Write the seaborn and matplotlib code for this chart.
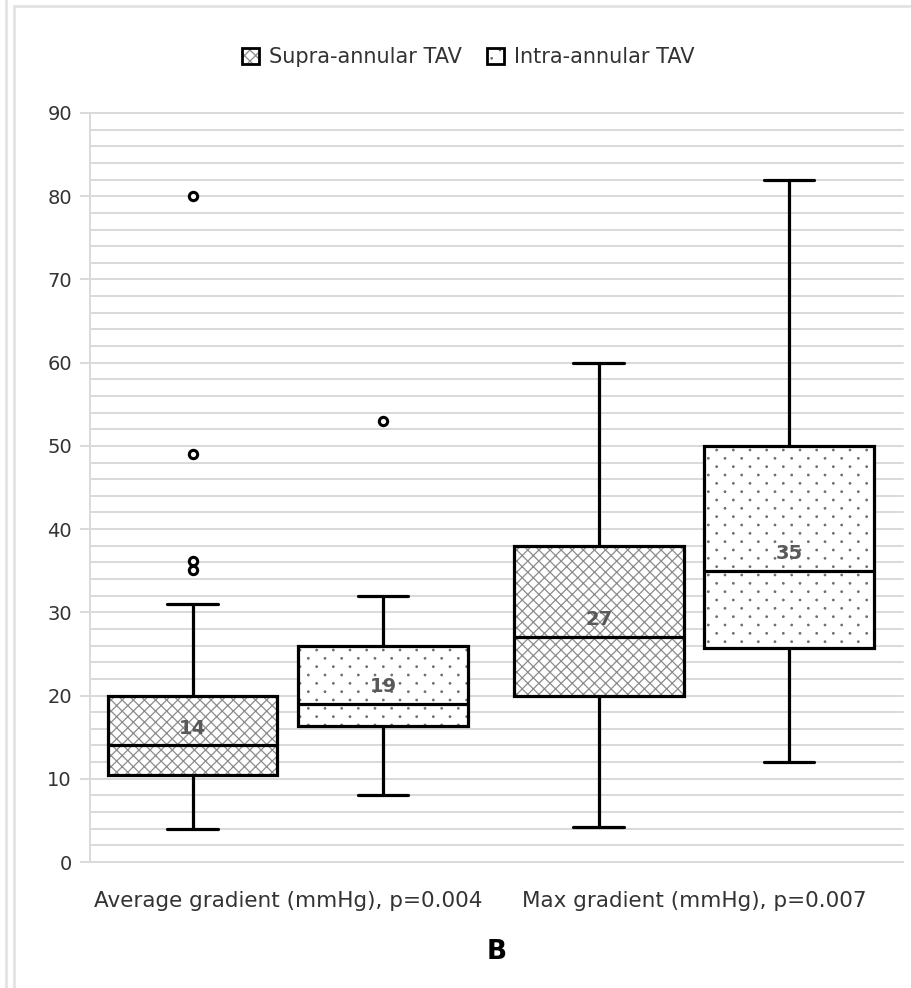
import matplotlib
matplotlib.use("Agg")
import numpy as np
import matplotlib.pyplot as plt
import matplotlib.hatch as mhatch
from matplotlib.path import Path
from matplotlib.patches import Patch
from matplotlib.lines import Line2D
from matplotlib.colors import to_rgba
import seaborn as sns

sns.set_theme(style="white")
plt.rcParams['font.family'] = ['DejaVu Sans']
plt.rcParams['hatch.linewidth'] = 0.9

# datos
categories = ["Average gradient (mmHg), p=0.004", "Max gradient (mmHg), p=0.007"]
groups = ["Supra-annular TAV", "Intra-annular TAV"]
medians = [[14, 19], [27, 35]]
q1 = [[10.5, 16.3], [20, 25.7]]
q3 = [[20, 26], [38, 50]]
whisker_lo = [[4, 8], [4.2, 12]]
whisker_hi = [[31, 32], [60, 82]]
outliers = [[[80, 49, 36.2, 35.1], [53]], [[], []]]
labels = [["14", "19"], ["27", "35"]]

hatches = ["xxx", "."]
hatch_colors = ["#8c8c8c", "#707070"]
GRID = "#d9d9d9"
TXT = "#333333"
offsets = [-0.2345, 0.2345]


# trama de puntos al tresbolillo (como la de Excel): columnas cada 1/6", filas cada 1/12"
class SparseDots(mhatch.HatchPatternBase):
    def __init__(self, hatch, density):
        self.n = hatch.count('.') * density
        self.circle = Path.unit_circle()
        n = self.n
        self.num_vertices = ((n + 1) ** 2 + n * n) * len(self.circle.vertices) if n else 0

    def set_vertices_and_codes(self, vertices, codes):
        n = self.n
        shape = self.circle.vertices * 0.0075
        parts = []
        for row in range(2 * n + 1):
            cols = np.linspace(0, 1, n + 1) if row % 2 == 0 else (np.arange(n) + 0.5) / n
            for c in cols:
                parts.append(shape + [c, row / (2 * n)])
        np.concatenate(parts, out=vertices)
        codes[:] = np.tile(self.circle.codes, len(parts))


mhatch._hatch_types = [SparseDots if t is mhatch.SmallFilledCircles else t
                       for t in mhatch._hatch_types]

fig = plt.figure(figsize=(9.11, 9.88), dpi=100)
ax = fig.add_axes([90 / 911, 126 / 988, 813 / 911, 749 / 988])

stats, pos, hts, hcs = [], [], [], []
for i in range(len(categories)):
    for j in range(len(groups)):
        stats.append(dict(med=medians[i][j], q1=q1[i][j], q3=q3[i][j],
                          whislo=whisker_lo[i][j], whishi=whisker_hi[i][j],
                          fliers=outliers[i][j]))
        pos.append(i + offsets[j])
        hts.append(hatches[j])
        hcs.append(hatch_colors[j])

res = ax.bxp(stats, positions=pos, widths=0.418, patch_artist=True,
             boxprops=dict(facecolor="white", edgecolor="black", linewidth=2.3),
             medianprops=dict(color="black", linewidth=2.3),
             whiskerprops=dict(color="black", linewidth=2.3),
             capprops=dict(color="black", linewidth=2.3),
             capwidths=0.125,
             flierprops=dict(marker="o", markersize=6, markerfacecolor="white",
                             markeredgecolor="black", markeredgewidth=2.2),
             zorder=3)
for box, h, hc in zip(res["boxes"], hts, hcs):
    box.set_hatch(h)
    box._hatch_color = to_rgba(hc)

# etiquetas de la mediana
for i in range(len(categories)):
    for j in range(len(groups)):
        ax.text(i + offsets[j], medians[i][j] + 2.1, labels[i][j], ha="center",
                va="center", fontsize=14, fontweight="bold", color="#595959", zorder=4)

ax.set_ylim(0, 90)
ax.set_xlim(-0.487, 1.515)
ax.set_yticks(range(0, 91, 10))
ax.set_yticks(range(0, 91, 2), minor=True)
ax.yaxis.grid(True, which="both", color=GRID, linewidth=1.4, zorder=0)
ax.set_axisbelow(True)
ax.set_xticks([0, 1])
ax.set_xticklabels(categories)
ax.tick_params(axis="x", length=0, pad=21, labelsize=15.5, colors=TXT)
ax.tick_params(axis="y", which="major", left=True, length=7, width=1.4,
               color=GRID, pad=6, labelsize=14, labelcolor=TXT)
ax.tick_params(axis="y", which="minor", length=0)
for s in ["top", "right"]:
    ax.spines[s].set_visible(False)
for s in ["left", "bottom"]:
    ax.spines[s].set_color(GRID)
    ax.spines[s].set_linewidth(1.4)
fig.canvas.draw()
for gl in ax.get_ygridlines() + ax.yaxis.get_minorticklines():
    gl.set_clip_on(False)
for tk in ax.yaxis.get_minor_ticks() + ax.yaxis.get_major_ticks():
    tk.gridline.set_clip_on(False)

handles = [Patch(facecolor="white", edgecolor="black", linewidth=2, hatch=h) for h in hatches]
for hnd, hc in zip(handles, hatch_colors):
    hnd._hatch_color = to_rgba(hc)
leg = fig.legend(handles, groups, loc="center", bbox_to_anchor=(0.514, 1 - 57 / 988),
                 ncol=2, frameon=False, fontsize=15, handlelength=0.8, handleheight=0.8,
                 handletextpad=0.5, columnspacing=1.2)
for t in leg.get_texts():
    t.set_color(TXT)

fig.text(497 / 911, 1 - 952 / 988, "B", ha="center", va="center",
         fontsize=19, fontweight="bold", color="black")

# marco exterior
fig.add_artist(Line2D([6 / 911, 6 / 911], [0, 1], color="#e3e3e3", linewidth=2))
fig.add_artist(Line2D([14 / 911, 14 / 911], [0, 1 - 6 / 988], color="#e3e3e3", linewidth=2))
fig.add_artist(Line2D([14 / 911, 1], [1 - 6 / 988, 1 - 6 / 988], color="#e3e3e3", linewidth=2))

fig.savefig("out.png", dpi=100)
